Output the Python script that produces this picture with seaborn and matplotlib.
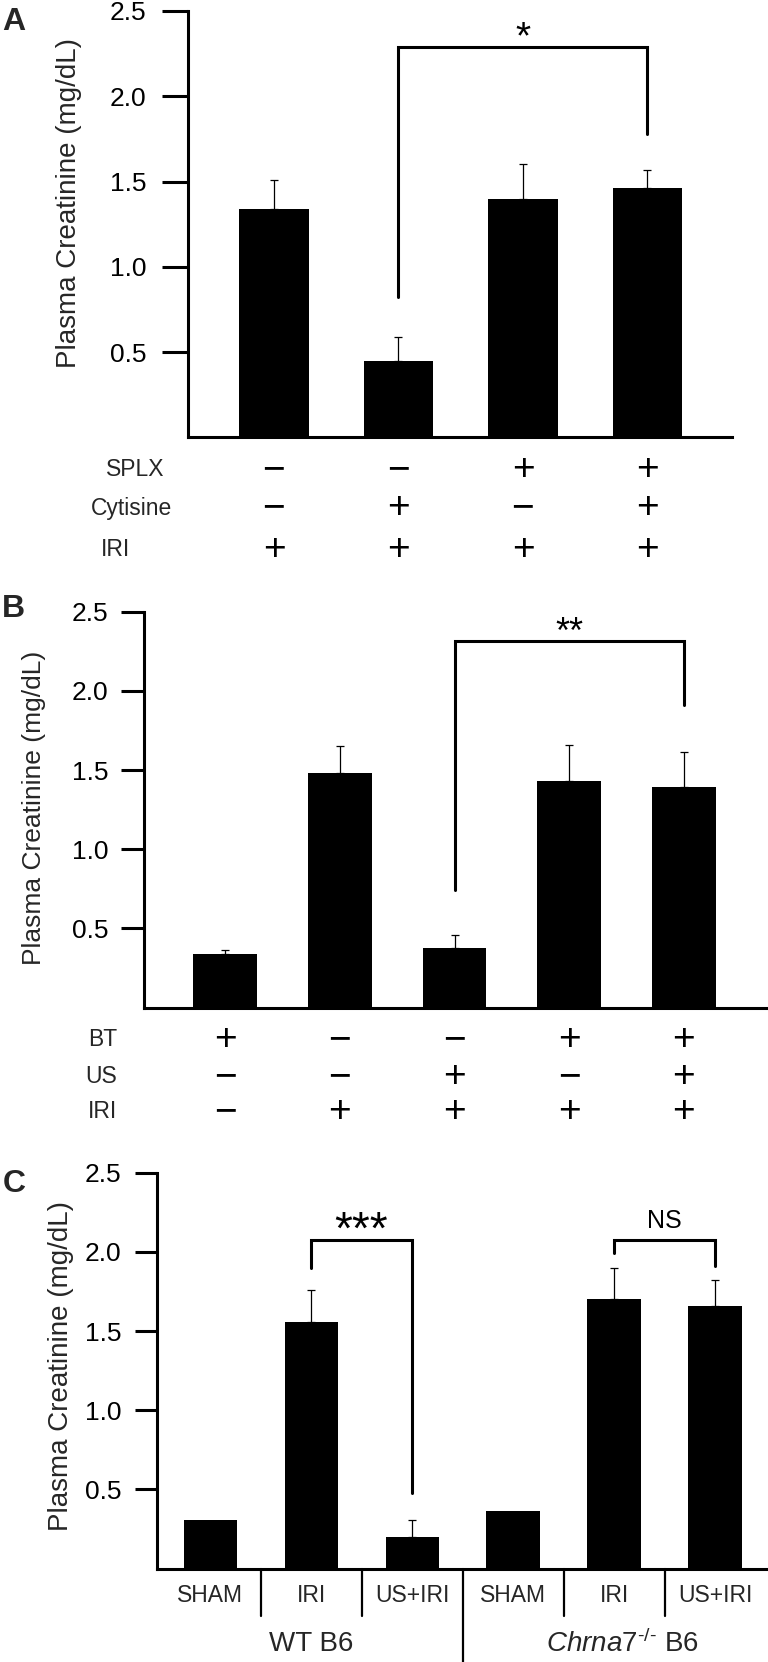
import numpy as np
import pandas as pd
import matplotlib
matplotlib.use("Agg")
import matplotlib.pyplot as plt
import seaborn as sns
from matplotlib.transforms import blended_transform_factory

sns.set_theme(style="white")
plt.rcParams["font.family"] = ["Liberation Sans", "DejaVu Sans"]
plt.rcParams["mathtext.fontset"] = "custom"
plt.rcParams["mathtext.rm"] = "Liberation Sans"
plt.rcParams["mathtext.it"] = "Liberation Sans:italic"

# ---------------- data ----------------
ytick_vals = [0.5, 1.0, 1.5, 2.0, 2.5]
ytick_labels = ["0.5", "1.0", "1.5", "2.0", "2.5"]
ylabel = "Plasma Creatinine (mg/dL)"

# Panel A
a_means = [1.34, 0.45, 1.40, 1.46]
a_sem = [0.17, 0.14, 0.20, 0.11]
a_rows = ["SPLX", "Cytisine", "IRI"]
a_signs = [["−", "−", "+", "+"],
           ["−", "+", "−", "+"],
           ["+", "+", "+", "+"]]
a_sig = ["*"]
a_sig_pairs = [(1, 3)]
a_sig_top = [2.29]
a_sig_legs = [(0.82, 1.78)]

# Panel B
b_means = [0.34, 1.48, 0.376, 1.43, 1.39]
b_sem = [0.025, 0.17, 0.08, 0.225, 0.225]
b_rows = ["BT", "US", "IRI"]
b_signs = [["+", "−", "−", "+", "+"],
           ["−", "−", "+", "−", "+"],
           ["−", "+", "+", "+", "+"]]
b_sig = ["**"]
b_sig_pairs = [(2, 4)]
b_sig_top = [2.315]
b_sig_legs = [(0.74, 1.91)]

# Panel C
c_labels = ["SHAM", "IRI", "US+IRI", "SHAM", "IRI", "US+IRI"]
c_means = [0.305, 1.555, 0.197, 0.362, 1.70, 1.66]
c_sem = [np.nan, 0.207, 0.11, np.nan, 0.20, 0.16]
c_group1 = "WT B6"
c_group2_gene = "Chrna7"
c_group2_sup = "\u2010/\u2010"
c_group2_tail = " B6"
c_sig = ["***", "NS"]
c_sig_pairs = [(1, 2), (4, 5)]
c_sig_top = [2.075, 2.075]
c_sig_legs = [(1.90, 0.48), (1.99, 1.91)]

# ---------------- layout ----------------
W, H = 768, 1662
fig = plt.figure(figsize=(W / 100, H / 100), dpi=100)


def fx(px):
    return px / W


def fy(py):
    return 1 - py / H


def make_axes(left, right, y0, y25, xlim):
    ax = fig.add_axes([fx(left), fy(y0), (right - left) / W, (y0 - y25) / H])
    ax.set_xlim(*xlim)
    return ax


axA = make_axes(187.7, 732, 437.3, 11, (-0.693, 3.679))
axB = make_axes(144.3, 766, 1007.5, 611.7, (-0.707, 4.718))
axC = make_axes(156.7, 766, 1568.5, 1172.7, (-0.528, 5.505))


def draw_bars(ax, means, sem, width, ticklen, pad):
    idx = list(range(len(means)))
    df = pd.DataFrame({"idx": idx, "val": means})
    xl = ax.get_xlim()
    sns.barplot(data=df, x="idx", y="val", color="black", saturation=1,
                width=width, errorbar=None, ax=ax, edgecolor="none")
    sem = np.asarray(sem, dtype=float)
    m = ~np.isnan(sem)
    ax.errorbar(np.array(idx)[m], np.array(means)[m],
                yerr=[np.zeros(m.sum()), sem[m]], fmt="none", ecolor="black",
                elinewidth=0.9, capsize=3, capthick=0.9, zorder=1)
    ax.set_xlim(*xl)
    ax.set_ylim(0, 2.5)
    ax.set_xticks([])
    ax.set_xlabel("")
    ax.set_ylabel("")
    ax.set_yticks(ytick_vals)
    ax.set_yticklabels(ytick_labels, fontsize=19, color="black")
    ax.tick_params(axis="y", direction="out", length=ticklen, width=2.2,
                   pad=pad, color="black", left=True)
    for s in ["top", "right"]:
        ax.spines[s].set_visible(False)
    for s in ["left", "bottom"]:
        ax.spines[s].set_linewidth(2.2)
        ax.spines[s].set_color("black")
    ax.set_facecolor("white")


draw_bars(axA, a_means, a_sem, 0.558, 18.5, 11)
draw_bars(axB, b_means, b_sem, 0.558, 16.5, 9.5)
draw_bars(axC, c_means, c_sem, 0.525, 16, 9.5)


def brackets(ax, labels, pairs, tops, legs, fs, dy, weight="normal"):
    for lab, (i, j), top, (l1, l2) in zip(labels, pairs, tops, legs):
        ax.plot([i, i, j, j], [l1, top, top, l2], color="black", lw=2.2,
                solid_joinstyle="miter", clip_on=False)
        ax.text((i + j) / 2, top + dy, lab, ha="center", va="center",
                fontsize=fs, fontweight=weight, color="black")


brackets(axA, a_sig, a_sig_pairs, a_sig_top, a_sig_legs, 28, 0.05)
brackets(axB, b_sig, b_sig_pairs, b_sig_top, b_sig_legs, 26, 0.05)
brackets(axC, c_sig[:1], c_sig_pairs[:1], c_sig_top[:1], c_sig_legs[:1], 33, 0.05)
brackets(axC, c_sig[1:], c_sig_pairs[1:], c_sig_top[1:], c_sig_legs[1:], 18, 0.12)

# y labels
fig.text(fx(69), fy(203.5), ylabel, rotation=90, ha="center", va="center", fontsize=20)
fig.text(fx(34), fy(808), ylabel, rotation=90, ha="center", va="center", fontsize=19)
fig.text(fx(61), fy(1366), ylabel, rotation=90, ha="center", va="center", fontsize=20)

# panel letters
for letter, (px, py) in zip(["A", "B", "C"], [(14, 22.5), (13.5, 609), (14, 1184)]):
    fig.text(fx(px), fy(py), letter, ha="center", va="center", fontsize=23,
             fontweight="bold")


# condition rows
def rows(ax, names, signs, name_x, ys, ha):
    tr = blended_transform_factory(ax.transData, fig.transFigure)
    for name, nx, py, row in zip(names, name_x, ys, signs):
        fig.text(fx(nx), fy(py), name, ha=ha, va="center", fontsize=16.5)
        for k, s in enumerate(row):
            ax.text(k, fy(py), s, transform=tr, ha="center", va="center",
                    fontsize=28, color="black")


rows(axA, a_rows, a_signs, [135, 131, 115.5], [470, 508, 550], "center")
rows(axB, b_rows, b_signs, [117, 117, 117], [1040, 1076.7, 1111.7], "right")

# panel C category labels and separators
trC = blended_transform_factory(axC.transData, fig.transFigure)
for k, lab in enumerate(c_labels):
    axC.text(k, fy(1595), lab, transform=trC, ha="center", va="center", fontsize=16.5)
for xs in [0.5, 1.5, 3.5, 4.5]:
    axC.plot([xs, xs], [fy(1569), fy(1616)], transform=trC, color="black",
             lw=1.6, clip_on=False)
axC.plot([2.5, 2.5], [fy(1569), fy(1662)], transform=trC, color="black",
         lw=1.6, clip_on=False)
axC.text(1, fy(1644), c_group1, transform=trC, ha="center", va="center", fontsize=20)
grp2 = "$\\mathit{" + c_group2_gene + "}^{\\mathrm{" + c_group2_sup + "}}$" + c_group2_tail
axC.text(4.08, fy(1644), grp2, transform=trC, ha="center", va="center", fontsize=20)

fig.savefig("out.png", dpi=100, facecolor="white")
